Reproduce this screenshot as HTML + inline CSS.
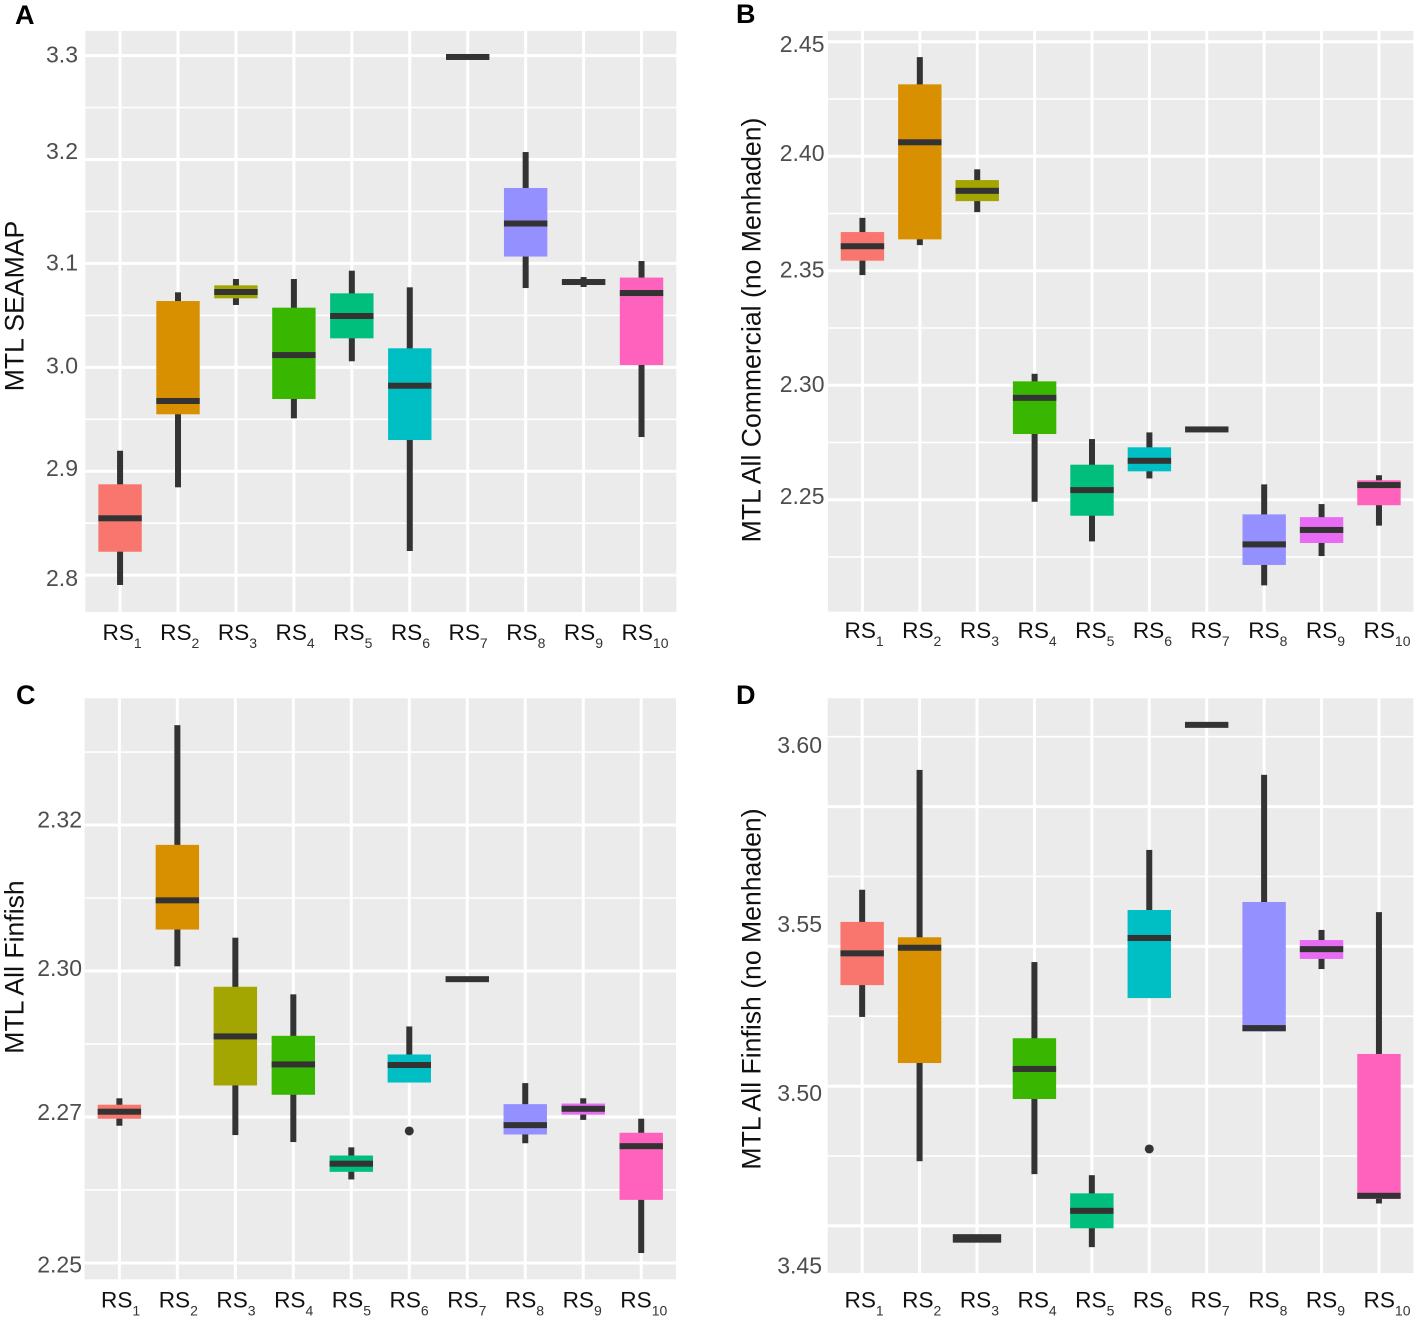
<!DOCTYPE html>
<html lang="en">
<head>
<meta charset="utf-8">
<title>MTL boxplots by RS group</title>
<style>
html,body{margin:0;padding:0;background:#fff;}
svg{display:block;font-family:"Liberation Sans",sans-serif;}
</style>
</head>
<body>
<svg id="chart" xmlns="http://www.w3.org/2000/svg" width="1417" height="1320" viewBox="0 0 1417 1320"></svg>
<script>
const categories = ["1","2","3","4","5","6","7","8","9","10"];
const groupColors = ["#F8766D","#D89000","#A3A500","#39B600","#00BF7D","#00BFC4","#00B0F6","#9590FF","#E76BF3","#FF62BC"];

/* Panel A: MTL SEAMAP */
const aUpper  = [2.9197,3.0722,3.0850,3.0850,3.0930,3.0770,3.2987,3.2072,3.0869,3.1023];
const aQ3     = [2.8874,3.0638,3.0789,3.0574,3.0712,3.0183,3.2987,3.1726,3.0845,3.0864];
const aMedian = [2.8547,2.9676,3.0725,3.0118,3.0494,2.9823,3.2987,3.1384,3.0821,3.0715];
const aQ1     = [2.8225,2.9548,3.0664,2.9695,3.0279,2.9300,3.2987,3.1066,3.0797,3.0022];
const aLower  = [2.7905,2.8845,3.0600,2.9509,3.0058,2.8232,3.2987,3.0763,3.0773,2.9329];
const aOutlierGroups = [];
const aOutlierValues = [];
const aMajorTicks = [3.3,3.2,3.1,3.0,2.9,2.8];
const aMinorTicks = [3.25,3.15,3.05,2.95,2.85];
const aTickLabels = ["3.3","3.2","3.1","3.0","2.9","2.8"];
const aLabelValues = [3.3,3.207,3.1,3.001,2.902,2.7965];
const aDomain = [2.7645,3.3237];

/* Panel B: MTL All Commercial (no Menhaden) */
const bUpper  = [2.3731,2.4433,2.3943,2.3050,2.2765,2.2794,2.2807,2.2567,2.2481,2.2607];
const bQ3     = [2.3669,2.4314,2.3896,2.3017,2.2653,2.2729,2.2807,2.2436,2.2424,2.2585];
const bMedian = [2.3607,2.4061,2.3849,2.2945,2.2542,2.2670,2.2807,2.2305,2.2368,2.2564];
const bQ1     = [2.3544,2.3637,2.3804,2.2787,2.2430,2.2624,2.2807,2.2215,2.2311,2.2476];
const bLower  = [2.3481,2.3612,2.3756,2.2491,2.2318,2.2593,2.2807,2.2126,2.2254,2.2387];
const bOutlierGroups = [];
const bOutlierValues = [];
const bMajorTicks = [2.45,2.40,2.35,2.30,2.25];
const bMinorTicks = [2.425,2.375,2.325,2.275,2.225];
const bTickLabels = ["2.45","2.40","2.35","2.30","2.25"];
const bLabelValues = [2.4486,2.4009,2.3500,2.3000,2.2511];
const bDomain = [2.2011,2.4547];

/* Panel C: MTL All Finfish */
const cUpper  = [2.2782,2.3421,2.3057,2.2960,2.2698,2.2905,2.2986,2.2808,2.2782,2.2747];
const cQ3     = [2.2771,2.3216,2.2973,2.2889,2.2684,2.2857,2.2986,2.2772,2.2773,2.2723];
const cMedian = [2.2759,2.3121,2.2888,2.2840,2.2670,2.2839,2.2986,2.2736,2.2764,2.2700];
const cQ1     = [2.2747,2.3071,2.2804,2.2788,2.2656,2.2809,2.2986,2.2720,2.2754,2.2608];
const cLower  = [2.2735,2.3008,2.2719,2.2707,2.2643,2.2809,2.2986,2.2705,2.2745,2.2517];
const cOutlierGroups = [5];
const cOutlierValues = [2.2726];
const cMajorTicks = [2.325,2.30,2.275,2.25];
const cMinorTicks = [2.3375,2.3125,2.2875,2.2625];
const cTickLabels = ["2.32","2.30","2.27","2.25"];
const cLabelValues = [2.3258,2.3003,2.2757,2.2496];
const cDomain = [2.2472,2.3467];

/* Panel D: MTL All Finfish (no Menhaden) */
const dUpper  = [3.5562,3.5905,3.4564,3.5355,3.4745,3.5676,3.6034,3.5891,3.5447,3.5498];
const dQ3     = [3.5470,3.5426,3.4564,3.5137,3.4693,3.5504,3.6034,3.5527,3.5418,3.5092];
const dMedian = [3.5380,3.5396,3.4564,3.5049,3.4643,3.5424,3.6034,3.5166,3.5392,3.4686];
const dQ1     = [3.5289,3.5066,3.4564,3.4963,3.4593,3.5252,3.6034,3.5156,3.5364,3.4677];
const dLower  = [3.5198,3.4785,3.4564,3.4748,3.4539,3.5252,3.6034,3.5156,3.5335,3.4664];
const dOutlierGroups = [5];
const dOutlierValues = [3.4820];
const dMajorTicks = [3.58,3.54,3.50,3.46];
const dMinorTicks = [3.60,3.56,3.52,3.48];
const dTickLabels = ["3.60","3.55","3.50","3.45"];
const dLabelValues = [3.5974,3.5461,3.4978,3.4484];
const dDomain = [3.4465,3.6110];

const SVG_NS = "http://www.w3.org/2000/svg";
const root = document.getElementById("chart");

function node(parent, tag, props, text) {
  const el = document.createElementNS(SVG_NS, tag);
  for (const k in props) el.setAttribute(k, props[k]);
  if (text !== undefined) el.textContent = text;
  parent.appendChild(el);
  return el;
}

function drawPanel(p) {
  const g = node(root, "g", {});
  
  

  const step = (p.right - p.left) / (categories.length - 1 + 1.2);
  const x = i => p.left + step * (0.6 + i);
  const y = v => p.bottom - (v - p.domain[0]) / (p.domain[1] - p.domain[0]) * (p.bottom - p.top);

  const bg = node(g, "rect", {x: p.left, y: p.top, width: p.right - p.left, height: p.bottom - p.top, fill: "#EBEBEB"});
  
  

  p.minor.forEach(v => {
    const l = node(g, "line", {x1: p.left, x2: p.right, y1: y(v), y2: y(v), stroke: "#fff", "stroke-width": 1.6});
    
    
  });
  p.major.forEach(v => {
    const l = node(g, "line", {x1: p.left, x2: p.right, y1: y(v), y2: y(v), stroke: "#fff", "stroke-width": 3});
    
    
  });
  categories.forEach((c, i) => {
    const l = node(g, "line", {x1: x(i), x2: x(i), y1: p.top, y2: p.bottom, stroke: "#fff", "stroke-width": 3});
    
    
  });

  const boxW = 43.4, lineW = 6;
  categories.forEach((c, i) => {
    const whisk = node(g, "rect", {x: x(i) - lineW / 2, y: y(p.upper[i]), width: lineW, height: Math.max(0, y(p.lower[i]) - y(p.upper[i])), fill: "#333333"});
    
    

    const box = node(g, "rect", {x: x(i) - boxW / 2, y: y(p.q3[i]), width: boxW, height: Math.max(0, y(p.q1[i]) - y(p.q3[i])), fill: groupColors[i]});
    
    

    const pad = (p.medianPad && p.medianPad[i]) || 0;
    const med = node(g, "rect", {x: x(i) - boxW / 2 - pad, y: y(p.median[i]) - lineW / 2 - pad / 2, width: boxW + 2 * pad, height: lineW + pad, fill: "#333333"});
    
    
  });

  p.outlierGroups.forEach((grp, k) => {
    const o = node(g, "circle", {cx: x(grp), cy: y(p.outlierValues[k]), r: 4.5, fill: "#333333"});
    
    
  });

  p.tickLabels.forEach((t, k) => {
    const lab = node(g, "text", {x: p.tickRight, y: y(p.labelValues[k]) + 7, "text-anchor": "end", "font-size": 23, fill: "#4D4D4D"}, t);
    
    
  });

  categories.forEach((c, i) => {
    const lab = node(g, "text", {x: p.xLabelStart + p.xLabelStep * i, y: p.xBaseline, "font-size": 22.6, fill: "#111"}, "RS");
    
    
    node(lab, "tspan", {dy: 8, "font-size": 14, fill: "#333"}, c);
  });

  const title = node(g, "text", {transform: "translate(" + p.titleX + "," + p.titleY + ") rotate(-90)", "text-anchor": "middle", "font-size": 26.6, fill: "#111"}, p.title);
  
  

  const letter = node(g, "text", {x: p.letterX, y: p.letterY, "font-size": 27, "font-weight": "bold", fill: "#000"}, p.id);
  
  
}

drawPanel({id:"A", left:85.3, right:676.3, top:31, bottom:612, domain:aDomain,
  upper:aUpper, q3:aQ3, median:aMedian, q1:aQ1, lower:aLower,
  outlierGroups:aOutlierGroups, outlierValues:aOutlierValues,
  major:aMajorTicks, minor:aMinorTicks, tickLabels:aTickLabels, labelValues:aLabelValues,
  tickRight:78, xLabelStart:102.5, xLabelStep:57.67, xBaseline:640,
  title:"MTL SEAMAP", titleX:23.5, titleY:306, letterX:15, letterY:24});

drawPanel({id:"B", left:828, right:1413.4, top:31, bottom:611.7, domain:bDomain,
  upper:bUpper, q3:bQ3, median:bMedian, q1:bQ1, lower:bLower,
  outlierGroups:bOutlierGroups, outlierValues:bOutlierValues,
  major:bMajorTicks, minor:bMinorTicks, tickLabels:bTickLabels, labelValues:bLabelValues,
  tickRight:824.5, xLabelStart:844.5, xLabelStep:57.67, xBaseline:638,
  title:"MTL All Commercial (no Menhaden)", titleX:760.7, titleY:330, letterX:736, letterY:23});

drawPanel({id:"C", left:84.6, right:676, top:698.3, bottom:1279.3, domain:cDomain,
  upper:cUpper, q3:cQ3, median:cMedian, q1:cQ1, lower:cLower,
  outlierGroups:cOutlierGroups, outlierValues:cOutlierValues,
  major:cMajorTicks, minor:cMinorTicks, tickLabels:cTickLabels, labelValues:cLabelValues,
  tickRight:82, xLabelStart:101, xLabelStep:57.7, xBaseline:1307.7,
  title:"MTL All Finfish", titleX:23.5, titleY:967, letterX:16, letterY:704});

drawPanel({id:"D", left:827.7, right:1413.4, top:698.3, bottom:1273, domain:dDomain,
  upper:dUpper, q3:dQ3, median:dMedian, q1:dQ1, lower:dLower,
  outlierGroups:dOutlierGroups, outlierValues:dOutlierValues,
  major:dMajorTicks, minor:dMinorTicks, tickLabels:dTickLabels, labelValues:dLabelValues,
  medianPad:{2:2.5},
  tickRight:822, xLabelStart:844.5, xLabelStep:57.67, xBaseline:1307.5,
  title:"MTL All Finfish (no Menhaden)", titleX:760.7, titleY:989, letterX:736, letterY:704});
</script>
</body>
</html>
